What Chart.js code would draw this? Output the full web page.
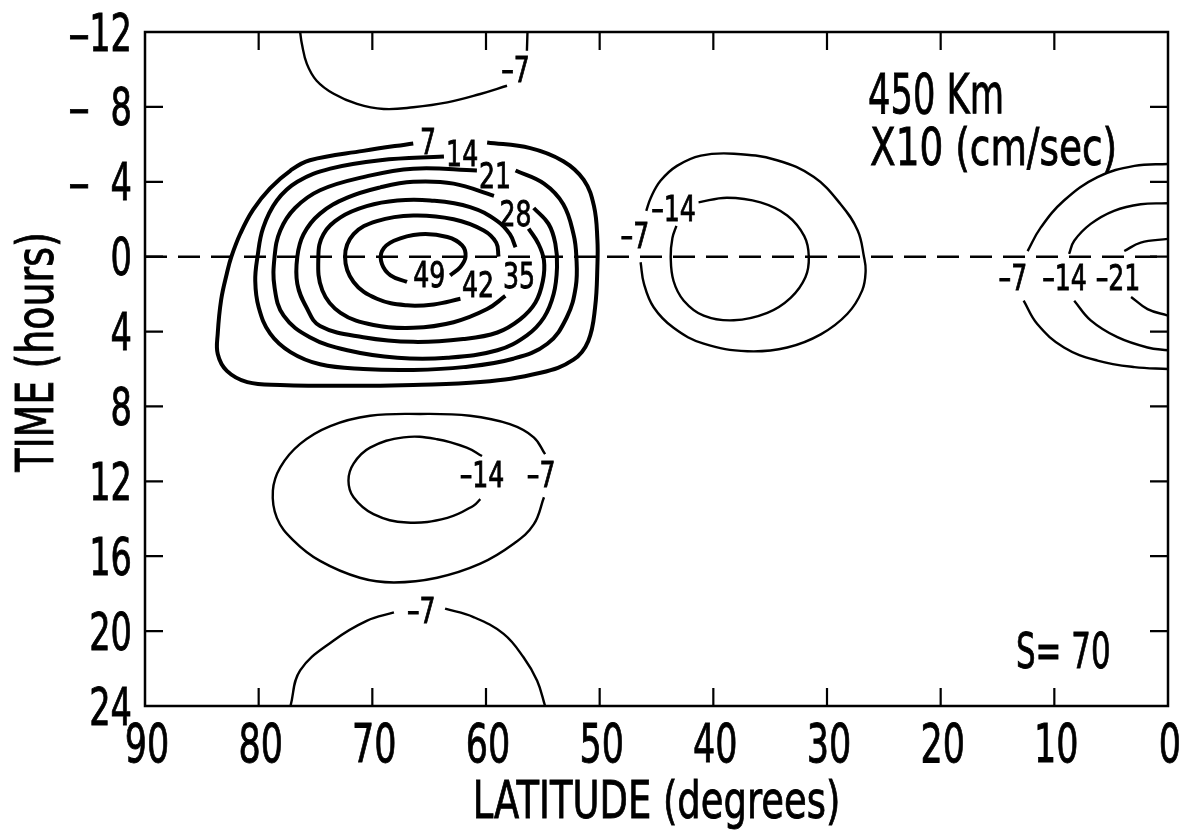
<!DOCTYPE html>
<html>
<head>
<meta charset="utf-8">
<script src="https://cdn.jsdelivr.net/npm/chart.js@4.4.1/dist/chart.umd.min.js"></script>
<style>
  html, body { margin: 0; padding: 0; background: #fff; }
  #wrap { width: 1181px; height: 830px; position: relative; }
</style>
</head>
<body>
<div id="wrap"><canvas id="chart"></canvas></div>
<script>
// axis ticks
const latTicks = [90, 80, 70, 60, 50, 40, 30, 20, 10, 0];
const timeTicks = [-12, -8, -4, 0, 4, 8, 12, 16, 20, 24];

// contour lines as [latitude, hour]; null = break where the label sits
const pos7 = [[59.9,-6.1],[56.1,-5.8],[53.2,-5.1],[51.4,-4.1],[50.5,-2.7],[50.2,-0.9],[50.2,0.5],[50.4,2.7],[51.0,4.5],[52.3,5.5],[55.2,6.2],[60.5,6.7],[66.4,6.85],[72.2,6.9],[78.1,6.85],[81.0,6.7],[82.8,6.1],[83.6,5.2],[83.6,4.1],[83.3,2.3],[82.8,0.9],[82.4,0],[81.6,-1.25],[80.5,-2.5],[79.0,-3.65],[77.2,-4.6],[75.5,-5.15],[70.8,-5.65],[66.4,-6.05]];
const pos14 = [[57.4,-4.6],[54.9,-3.9],[53.2,-2.8],[52.3,-1.2],[52.05,0],[52.1,1.6],[52.9,3.25],[54.6,4.65],[57.6,5.45],[62.0,5.9],[66.4,6.05],[70.8,6.0],[74.6,5.75],[77.2,5.1],[79.0,4.1],[80.0,2.7],[80.3,1.3],[80.1,0],[79.6,-1.55],[78.4,-3.0],[76.6,-4.0],[73.7,-4.7],[69.3,-5.15],[63.7,-5.35]];
const pos21 = [[55.8,-2.6],[54.5,-1.75],[53.9,-0.7],[53.75,0.55],[54.05,2.0],[54.9,3.25],[56.4,4.2],[59.0,5.0],[63.4,5.4],[67.8,5.4],[72.2,5.0],[75.5,4.3],[77.8,3.15],[78.6,1.65],[78.6,0],[78.1,-1.4],[76.8,-2.6],[74.6,-3.55],[70.8,-4.25],[66.4,-4.7],[60.8,-4.6]];
const pos28 = [[56.25,-1.5],[55.4,-0.7],[54.9,0.2],[55.0,1.3],[55.65,2.45],[57.0,3.35],[59.0,4.05],[62.0,4.4],[66.4,4.55],[70.8,4.3],[74.6,3.7],[75.8,2.7],[76.6,1.45],[76.6,0],[76.05,-1.2],[74.6,-2.3],[72.2,-3.15],[69.3,-3.7],[66.4,-4.0],[62.85,-3.9],[59.3,-3.25]];
const pos35 = [[58.3,2.1],[59.9,2.8],[62.85,3.5],[66.4,3.8],[69.9,3.65],[72.8,3.0],[74.4,1.8],[74.75,0],[74.3,-1.2],[72.8,-2.1],[70.5,-2.7],[67.8,-3.0],[64.9,-3.0],[61.4,-2.65],[59.0,-1.9],[57.9,-1.2],[57.4,-0.5]];
const pos42 = [[62.25,2.25],[64.6,2.55],[66.95,2.6],[69.6,2.25],[71.65,1.35],[72.4,0],[71.65,-1.2],[69.6,-1.9],[66.4,-2.2],[62.85,-2.0],[60.2,-1.4],[59.1,-0.75],[58.9,0]];
const pos49 = [[66.95,1.35],[68.4,1.0],[69.15,0.4],[69.15,-0.3],[68.1,-0.85],[65.8,-1.2],[63.4,-1.05],[62.1,-0.6],[61.8,0],[62.25,0.55],[63.15,1.0]];

const negTop7 = [[76.35,-12],[76.2,-11.37],[75.76,-10.3],[74.9,-9.4],[73.4,-8.7],[71.35,-8.16],[69.0,-7.89],[66.4,-7.98],[63.4,-8.24],[60.5,-8.69],[58.15,-9.13],null,[56.4,-11.0],[56.35,-12]];
const negMid7 = [[46.4,0.3],[46.1,1.45],[45.25,2.7],[43.5,3.8],[40.85,4.65],[37.0,5.05],[33.5,4.85],[30.55,4.15],[28.2,3.05],[26.9,1.8],[26.6,0.75],[26.75,0],[27.3,-1.4],[28.8,-2.8],[31.15,-4.25],[34.4,-5.15],[38.2,-5.5],[41.1,-5.4],[43.2,-4.85],[44.65,-4.05],[45.5,-3.15],[45.9,-2.45]];
const negMid14 = [[41.3,-2.9],[38.8,-3.15],[35.85,-2.9],[33.5,-2.2],[32.0,-1.1],[31.6,0],[31.9,1.1],[33.2,2.2],[35.25,3.0],[38.2,3.4],[40.85,3.15],[42.6,2.35],[43.5,1.3],[43.75,0],[43.6,-1.0],[43.25,-1.65]];
const negLow7 = [[54.8,10.55],[55.8,9.65],[57.9,8.95],[61.4,8.5],[65.8,8.4],[70.2,8.5],[73.7,9.05],[76.35,10.0],[78.1,11.25],[78.75,12.5],[78.4,13.95],[76.95,15.15],[74.6,16.25],[71.1,17.15],[68.1,17.4],[64.3,17.15],[60.5,16.4],[57.6,15.35],[55.8,14.3],[54.9,12.85]];
const negLow14 = [[60.35,10.65],[61.7,10.2],[64.3,9.75],[67.25,9.65],[70.2,10.2],[71.65,11.05],[72.1,11.95],[71.65,12.85],[69.9,13.75],[66.95,14.2],[63.4,13.95],[61.1,13.3],[60.5,12.95]];
const negBottom7 = [[77.2,24],[76.35,22.1],[73.4,20.5],[70.5,19.45],[68.1,19.0],null,[63.6,18.8],[61.1,19.25],[58.45,20.15],[56.7,21.4],[55.5,22.65],[54.8,24]];
const negRight7 = [[0,-4.95],[2.95,-4.85],[6.2,-4.25],[9.15,-3.0],[11.2,-1.55],[12.35,-0.3],null,[12.7,2.35],[11.5,3.6],[9.15,4.85],[6.2,5.55],[2.95,5.9],[0,6.0]];
const negRight14 = [[0,-2.85],[2.4,-2.8],[4.75,-2.45],[6.8,-1.75],[8.25,-0.85],[8.7,-0.15],null,[8.25,2.35],[6.8,3.4],[4.45,4.3],[1.8,4.85],[0,5.0]];
const negRight21 = [[0,-0.95],[2.4,-0.75],[3.85,-0.3],null,[3.25,2.15],[1.8,2.8],[0,3.15]];

const zeroLine = [[90,0],[0,0]];

const contours = [
  [7, pos7], [14, pos14], [21, pos21], [28, pos28], [35, pos35], [42, pos42], [49, pos49],
  [-7, negTop7], [-7, negMid7], [-14, negMid14], [-7, negLow7], [-14, negLow14],
  [-7, negBottom7], [-7, negRight7], [-14, negRight14], [-21, negRight21]
];

// contour value labels: [text, latitude, hour]
const contourLabels = [
  ["7", 65.1, -6.2], ["14", 62.1, -5.55], ["21", 59.2, -4.35], ["28", 57.4, -2.35],
  ["35", 57.1, 1.0], ["42", 60.7, 1.45], ["49", 65.0, 0.95],
  ["–7", 57.4, -10.0], ["–7", 46.9, -1.15], ["–14", 43.5, -2.6],
  ["–14", 60.35, 11.6], ["–7", 55.15, 11.6], ["–7", 65.7, 18.85],
  ["–7", 13.65, 1.1], ["–14", 9.1, 1.1], ["–21", 4.4, 1.1]
];

const FONT = '"DejaVu Sans", "Liberation Sans", sans-serif';

function letter(ctx, text, x, y, size, align, sx) {
  ctx.save();
  ctx.translate(x, y);
  ctx.scale(sx, 1);
  ctx.font = size + "px " + FONT;
  ctx.textAlign = align;
  ctx.textBaseline = "alphabetic";
  ctx.fillText(text, 0, 0);
  ctx.lineWidth = 0.9;
  ctx.strokeText(text, 0, 0);
  ctx.restore();
}

const toXY = (pts) => pts.map((p) => (p ? { x: p[0], y: p[1] } : { x: null, y: null }));

const datasets = [
  {
    data: toXY(zeroLine),
    borderColor: "#000",
    borderWidth: 2.5,
    borderDash: [22, 11],
    showLine: true,
    pointRadius: 0,
  },
  ...contours.map(([level, pts]) => ({
    data: toXY(pts),
    borderColor: "#000",
    borderWidth: level > 0 ? 4 : 2.4,
    showLine: true,
    pointRadius: 0,
    tension: 0.4,
    spanGaps: false,
  })),
];

const framePlugin = {
  id: "frame",
  afterDatasetsDraw(chart) {
    const { ctx, chartArea: a, scales } = chart;
    const xs = scales.x, ys = scales.y;
    ctx.save();
    ctx.strokeStyle = "#000";
    ctx.fillStyle = "#000";
    ctx.lineWidth = 2.5;
    ctx.strokeRect(a.left, a.top, a.right - a.left, a.bottom - a.top);

    // inward ticks on all four sides
    ctx.lineWidth = 2.2;
    ctx.beginPath();
    latTicks.slice(1, -1).forEach((v) => {
      const px = xs.getPixelForValue(v);
      ctx.moveTo(px, a.bottom); ctx.lineTo(px, a.bottom - 18);
      ctx.moveTo(px, a.top); ctx.lineTo(px, a.top + 18);
    });
    timeTicks.slice(1, -1).forEach((v) => {
      const py = ys.getPixelForValue(v);
      ctx.moveTo(a.left, py); ctx.lineTo(a.left + 18, py);
      ctx.moveTo(a.right, py); ctx.lineTo(a.right - 18, py);
    });
    ctx.stroke();

    // tick labels
    latTicks.forEach((v) => {
      letter(ctx, String(v), xs.getPixelForValue(v) + 2, a.bottom + 56, 53, "center", 0.66);
    });
    timeTicks.forEach((v) => {
      const base = ys.getPixelForValue(v) + 18.5;
      letter(ctx, String(Math.abs(v)), a.left - 13, base, 51, "right", 0.66);
      if (v < 0) letter(ctx, "–", a.left - 66, base, 51, "center", 0.85);
    });

    // axis titles
    letter(ctx, "LATITUDE (degrees)", (a.left + a.right) / 2, 818, 52, "center", 0.71);
    ctx.save();
    ctx.translate(53, 352);
    ctx.rotate(-Math.PI / 2);
    letter(ctx, "TIME (hours)", 0, 0, 52, "center", 0.73);
    ctx.restore();

    // contour values
    contourLabels.forEach(([t, lat, hr]) => {
      letter(ctx, t, xs.getPixelForValue(lat), ys.getPixelForValue(hr) + 13, 36, "center", 0.7);
    });

    // notes
    letter(ctx, "450 Km", 868, 113, 56, "left", 0.63);
    letter(ctx, "X10 (cm/sec)", 870, 165, 52, "left", 0.72);
    letter(ctx, "S= 70", 1016, 668, 49, "left", 0.63);
    ctx.restore();
  },
};

new Chart(document.getElementById("chart"), {
  type: "scatter",
  data: { datasets },
  options: {
    responsive: true,
    maintainAspectRatio: false,
    animation: false,
    layout: { padding: { left: 145, top: 32, right: 13, bottom: 124 } },
    plugins: { legend: { display: false }, tooltip: { enabled: false } },
    scales: {
      x: { type: "linear", display: false, reverse: true, min: 0, max: 90 },
      y: { type: "linear", display: false, reverse: true, min: -12, max: 24 },
    },
  },
  plugins: [framePlugin],
});
</script>
</body>
</html>
